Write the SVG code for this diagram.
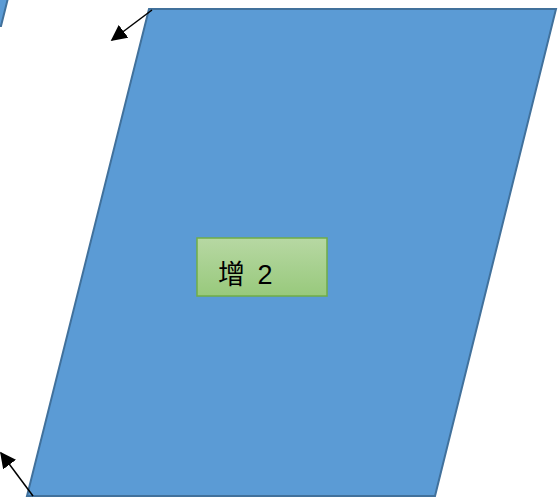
<svg xmlns="http://www.w3.org/2000/svg" width="558" height="500" viewBox="0 0 558 500">
<style>
.para{fill:#5B9BD5;stroke:#41719C;stroke-width:2}
.conn{stroke:#000;stroke-width:1.5;fill:none}
.lbl{font-family:"Liberation Sans","Noto Sans CJK SC",sans-serif;font-size:27px;fill:#000}
</style>
<defs>
<marker id="ah2" viewBox="0 0 10 10" refX="9" refY="5" markerWidth="16" markerHeight="16" orient="auto" markerUnits="userSpaceOnUse">
<path d="M0,0 L10,5 L0,10 z" fill="#000"/>
</marker>
<linearGradient id="gg" x1="0" y1="0" x2="0" y2="1">
<stop offset="0" stop-color="#B7D8A3"/>
<stop offset="1" stop-color="#98C97C"/>
</linearGradient>
</defs>
<g id="partial">
<polygon class="para" points="-2,-2 8,-2 1,26 -2,26"/>
</g>
<g id="parallelogram">
<polygon class="para" points="149,9 556,9 435,496 27,496"/>
</g>
<g id="box">
<rect x="197" y="238" width="130" height="58" fill="url(#gg)" stroke="#70AD47" stroke-width="1.5"/>
<text class="lbl" x="218" y="284">增 <tspan dx="5">2</tspan></text>
</g>
<g id="connectors">
<line class="conn" x1="152" y1="10" x2="112" y2="40" marker-end="url(#ah2)"/>
<line class="conn" x1="33" y1="496" x2="1" y2="453" marker-end="url(#ah2)"/>
</g>
</svg>
